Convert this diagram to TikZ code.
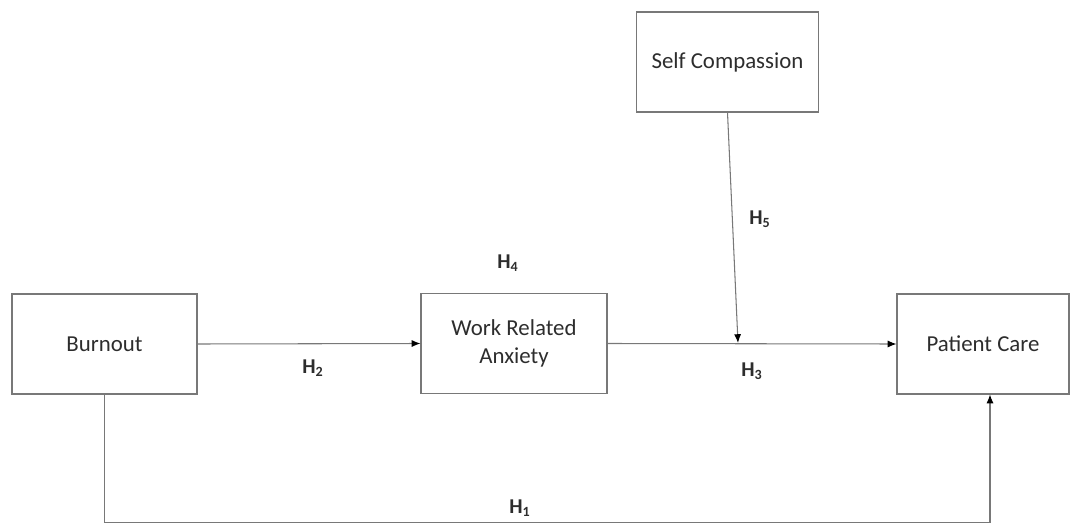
\documentclass[tikz,border=0pt]{standalone}
\usepackage{fontspec}
\setmainfont{Carlito}
\usetikzlibrary{arrows.meta}
\definecolor{linegray}{RGB}{120,120,120}
\definecolor{textgray}{RGB}{45,45,45}

\begin{document}
\begin{tikzpicture}[x=0.02cm, y=-0.02cm,
    box/.style={rectangle, draw=linegray, line width=0.6pt, minimum height=2cm, align=center, text=textgray, font=\fontsize{13}{15.5}\selectfont},
    hyp/.style={text=textgray, font=\fontsize{12}{14}\selectfont\bfseries},
    arr/.style={-{Latex[length=5pt,width=4pt,black]}, draw=linegray, line width=0.6pt}]
    \useasboundingbox (0,0) rectangle (1072,527);

    % Variables
    \node[box, minimum width=3.7cm] (burnout) at (104.5,344) {Burnout};
    \node[box, minimum width=3.72cm] (anxiety) at (514,343.5) {Work Related\\Anxiety};
    \node[box, minimum width=3.64cm] (compassion) at (727.5,62) {Self Compassion};
    \node[box, minimum width=3.44cm] (care) at (983,344) {Patient Care};
    \coordinate (mod) at (738,343);

    % Paths
    \draw[arr] (burnout.east) -- (anxiety.west);
    \draw[arr] (anxiety.east) -- (care.west);
    \draw[arr] (compassion.south) -- (mod);
    \draw[arr] (burnout.south) -- ++(0,128) -| ([xshift=0.14cm]care.south);

    % Hypotheses
    \node[hyp] (h4) at (508,263) {H\textsubscript{4}};
    \node[hyp] (h2) at (313,368) {H\textsubscript{2}};
    \node[hyp] (h3) at (752,371) {H\textsubscript{3}};
    \node[hyp] (h5) at (760,219) {H\textsubscript{5}};
    \node[hyp] (h1) at (520,508) {H\textsubscript{1}};
\end{tikzpicture}
\end{document}
